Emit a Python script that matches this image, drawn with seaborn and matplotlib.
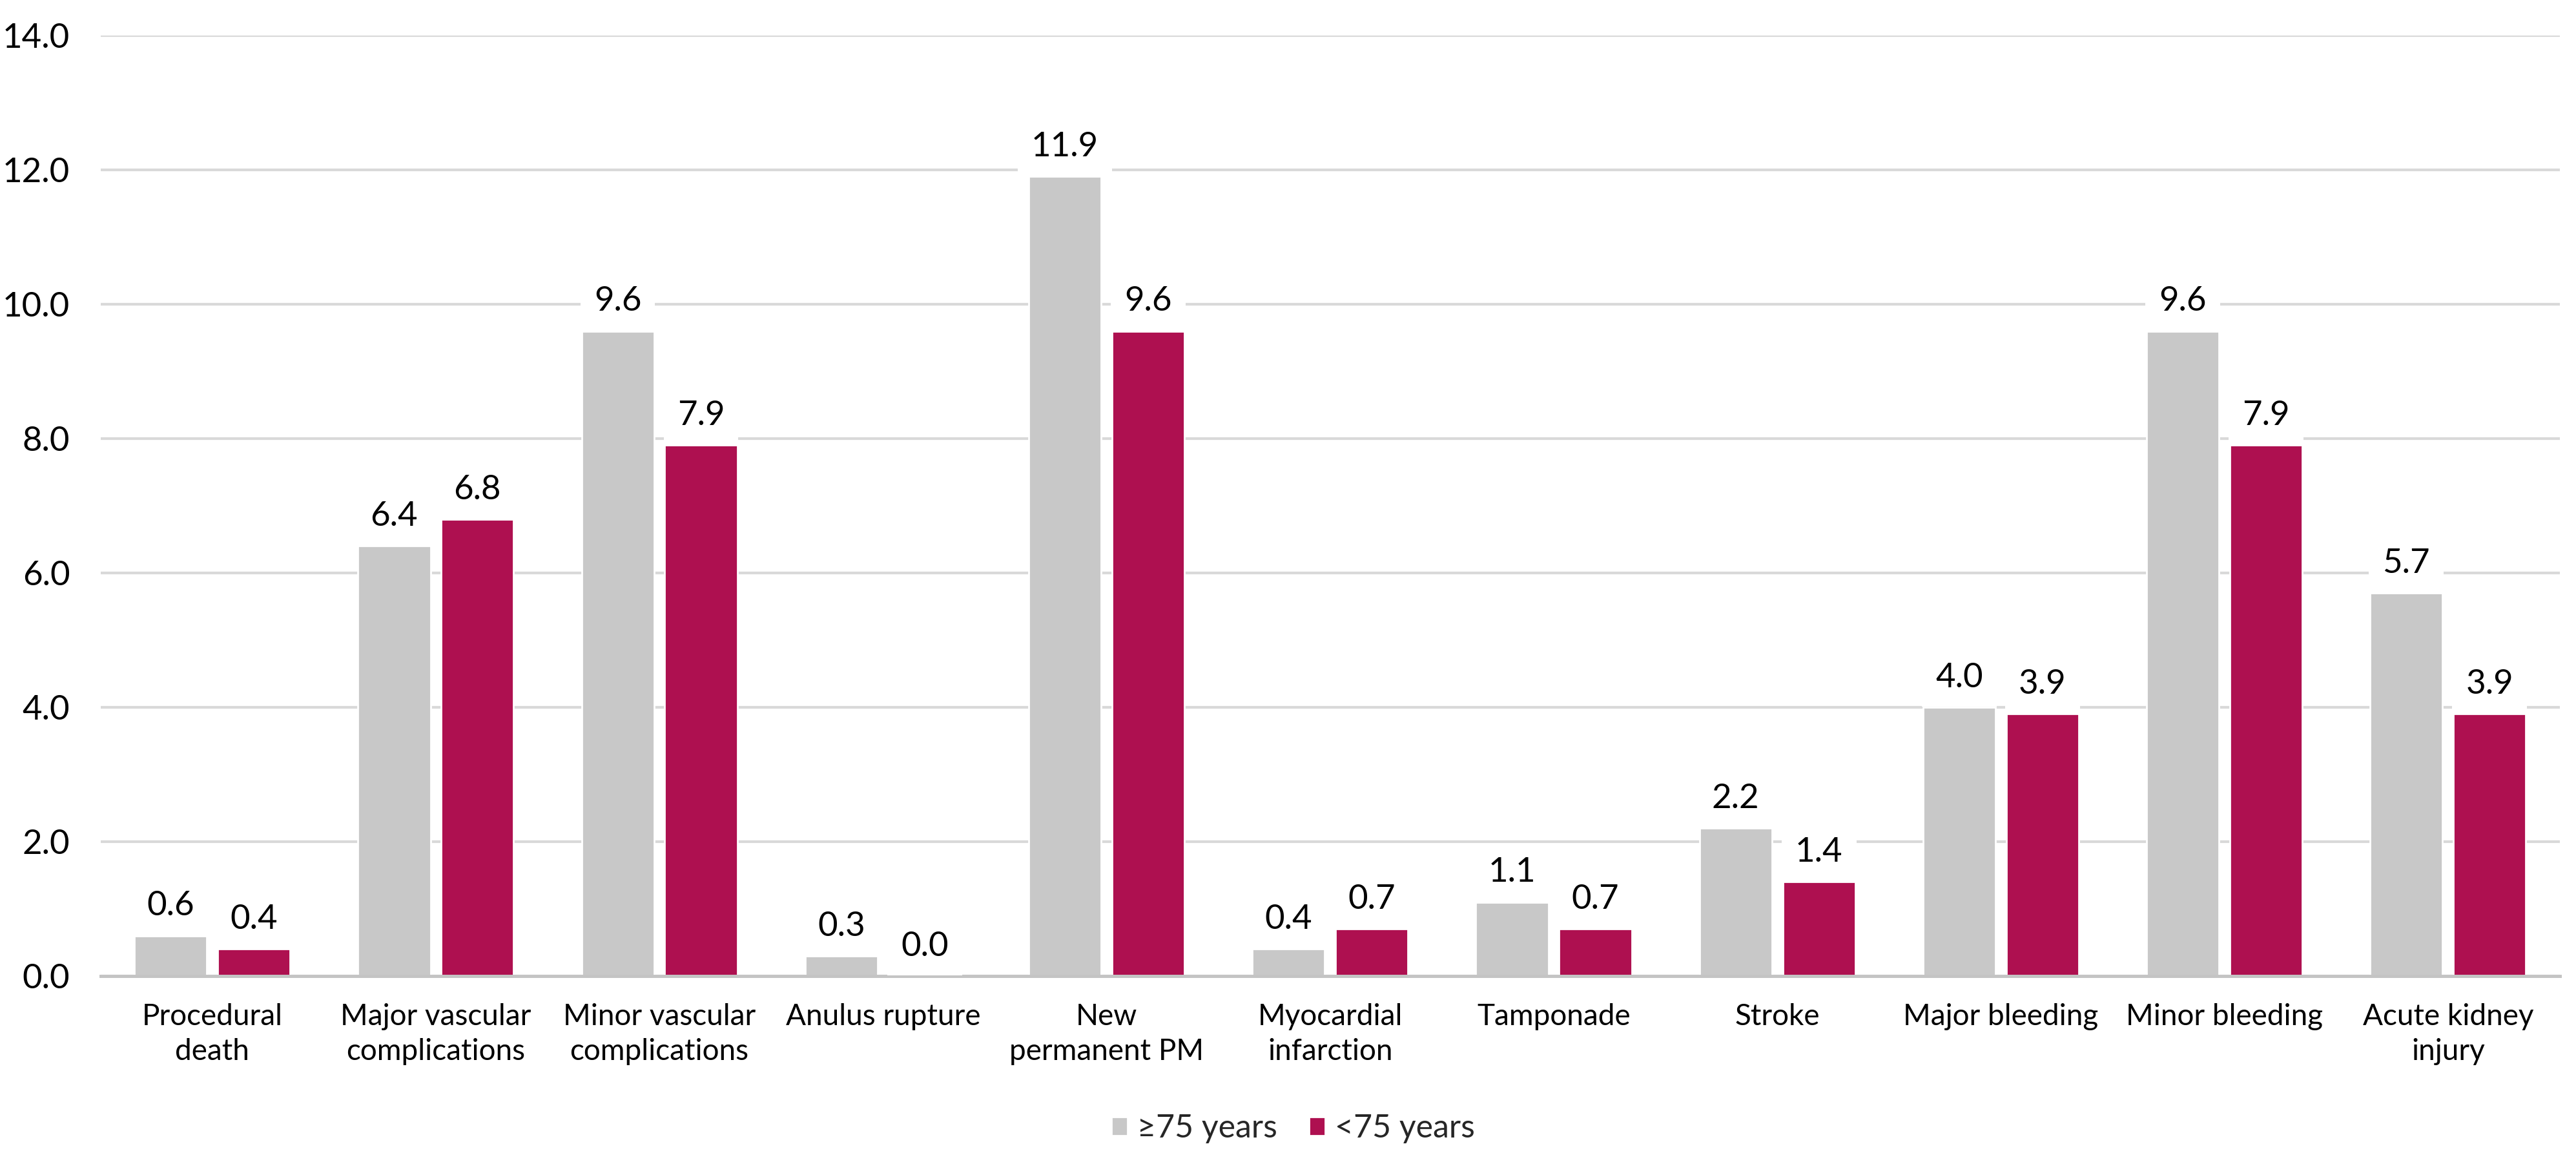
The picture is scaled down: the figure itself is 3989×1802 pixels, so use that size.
import numpy as np
import pandas as pd
import seaborn as sns
import matplotlib
matplotlib.use("Agg")
import matplotlib.pyplot as plt

# complication categories, two line labels as in the source chart
categories = ["Procedural\ndeath", "Major vascular\ncomplications", "Minor vascular\ncomplications",
              "Anulus rupture", "New\npermanent PM", "Myocardial\ninfarction", "Tamponade",
              "Stroke", "Major bleeding", "Minor bleeding", "Acute kidney\ninjury"]
groups = ["\u226575 years", "<75 years"]
old_vals = [0.6, 6.4, 9.6, 0.3, 11.9, 0.4, 1.1, 2.2, 4.0, 9.6, 5.7]
young_vals = [0.4, 6.8, 7.9, 0.0, 9.6, 0.7, 0.7, 1.4, 3.9, 7.9, 3.9]
bar_colors = ["#C8C8C8", "#AE1050"]
y_ticks = [0.0, 2.0, 4.0, 6.0, 8.0, 10.0, 12.0, 14.0]

df = pd.DataFrame({
    "category": categories * 2,
    "value": old_vals + young_vals,
    "group": [groups[0]] * len(categories) + [groups[1]] * len(categories),
})

sns.set_style("white")
plt.rcParams["font.family"] = ["Lato", "DejaVu Sans"]
fs = 19

fig = plt.figure(figsize=(3989 / 200, 1802 / 200), dpi=200)
ax = fig.add_axes([0.039, 0.1615, 0.9547, 0.808])

sns.barplot(data=df, x="category", y="value", hue="group", palette=bar_colors,
            width=0.745, gap=0.13, saturation=1, errorbar=None, ax=ax, zorder=2)

# data labels with white box that cuts the gridlines, like the original
for cont in ax.containers:
    ax.bar_label(cont, fmt="%.1f", padding=8, fontsize=fs, color="black", zorder=4,
                 bbox=dict(boxstyle="square,pad=0.4", facecolor="white", edgecolor="none"))

ax.set_ylim(0, 14)
ax.set_xlim(-0.5, len(categories) - 0.5)
ax.set_yticks(y_ticks)
ax.set_yticklabels(["%.1f" % t for t in y_ticks])
ax.yaxis.grid(True, color="#D9D9D9", linewidth=1.5, zorder=0)
ax.set_axisbelow(True)
for s in ["top", "right", "left"]:
    ax.spines[s].set_visible(False)
ax.spines["bottom"].set_color("#C4C4C4")
ax.spines["bottom"].set_linewidth(1.8)
ax.tick_params(axis="y", length=0, pad=17, labelsize=fs, labelcolor="black")
ax.tick_params(axis="x", length=0, pad=15, labelsize=16.5, labelcolor="black")
for lbl in ax.get_xticklabels():
    lbl.set_linespacing(1.35)
ax.set_xlabel("")
ax.set_ylabel("")

handles, labels = ax.get_legend_handles_labels()
ax.get_legend().remove()
fig.legend(handles, labels, loc="center", bbox_to_anchor=(0.502, 0.0305), ncol=2, frameon=False,
           fontsize=18, handlelength=0.5, handleheight=0.5, handletextpad=0.3, columnspacing=1.0)

fig.savefig("out.png", dpi=200, facecolor="white")
